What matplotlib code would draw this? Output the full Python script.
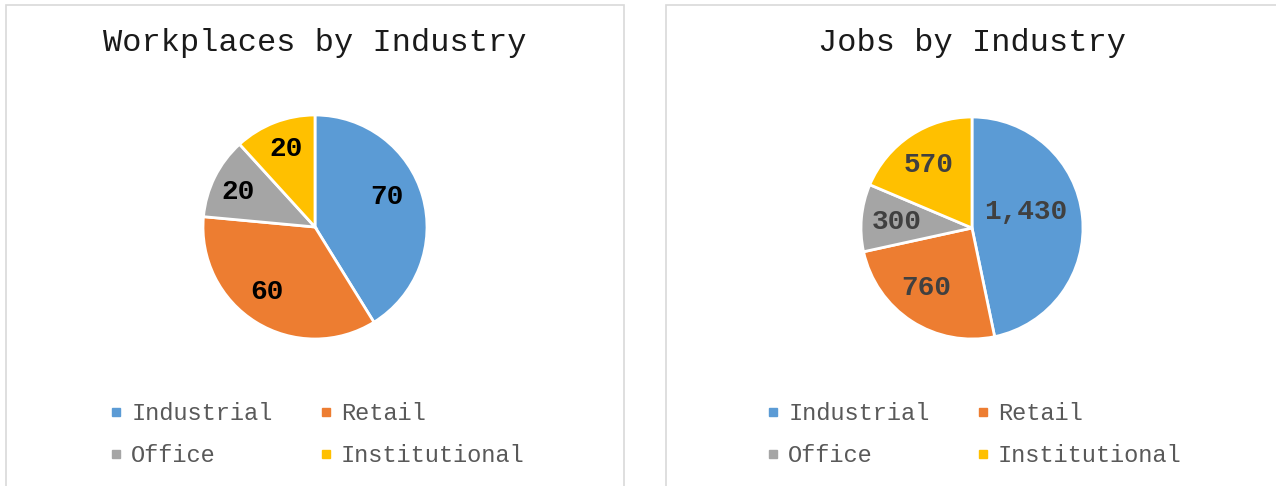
import numpy as np
import matplotlib.pyplot as plt
from matplotlib.patches import Rectangle
from matplotlib.lines import Line2D

categories = ['Industrial', 'Retail', 'Office', 'Institutional']
workplaces = [70, 60, 20, 20]
jobs = [1430, 760, 300, 570]
colors = ['#5B9BD5', '#ED7D31', '#A5A5A5', '#FFC000']

# label placement (radius fraction, angle offset in degrees), like Excel's "center"
wp_lab_pos = [(0.70, 7), (0.72, -5), (0.76, 2), (0.74, -1)]
jobs_lab_pos = [(0.51, 11), (0.68, -4), (0.68, 1), (0.69, 1)]

W, H = 1276, 486
fig = plt.figure(figsize=(W / 100, H / 100), dpi=100)
fig.patch.set_facecolor('white')

mono = 'Liberation Mono'


def fx(px):
    return px / W


def fy(py):
    return 1 - py / H


# panel borders
for x0, x1 in [(6, 624), (666, 1290)]:
    fig.add_artist(Rectangle((fx(x0), fy(500)), fx(x1 - x0), (500 - 5) / H,
                             transform=fig.transFigure, fill=False,
                             edgecolor='#D9D9D9', lw=1.2, clip_on=False))


def draw_pie(values, title, cx, cy, r, lab_color, leg_x, lab_pos):
    ax = fig.add_axes([fx(cx - r), fy(cy + r), 2 * r / W, 2 * r / H])
    wedges, texts = ax.pie(values, colors=colors, startangle=90, counterclock=False,
                           labels=[f'{v:,}' for v in values], labeldistance=0.7,
                           wedgeprops=dict(edgecolor='white', linewidth=2),
                           textprops=dict(family=mono, fontsize=20, weight='bold',
                                          color=lab_color, ha='center', va='center'))
    for w, t, (d, off) in zip(wedges, texts, lab_pos):
        th = np.deg2rad((w.theta1 + w.theta2) / 2 + off)
        t.set_position((d * np.cos(th), d * np.sin(th)))
    ax.set_xlim(-1, 1)
    ax.set_ylim(-1, 1)
    ax.set_aspect('auto')
    ax.axis('off')
    fig.text(fx(cx), fy(43), title, family=mono, fontsize=23, color='#1A1A1A',
             ha='center', va='center')
    # row-major legend order: Industrial, Retail / Office, Institutional
    order = [0, 2, 1, 3]
    handles = [Line2D([], [], marker='s', linestyle='none', markersize=6,
                      markerfacecolor=colors[i], markeredgecolor=colors[i]) for i in order]
    fig.legend(handles, [categories[i] for i in order], loc='upper left',
               bbox_to_anchor=(fx(leg_x), fy(402)),
               ncol=2, frameon=False, prop=dict(family=mono, size=17),
               labelcolor='#595959', handlelength=0.5, handletextpad=0.4,
               columnspacing=2.0, labelspacing=0.8,
               borderpad=0, borderaxespad=0)


draw_pie(workplaces, 'Workplaces by Industry', 315, 227, 112, 'black', 110, wp_lab_pos)
draw_pie(jobs, 'Jobs by Industry', 972, 228, 111, '#404040', 767, jobs_lab_pos)

fig.savefig('out.png', dpi=100)
